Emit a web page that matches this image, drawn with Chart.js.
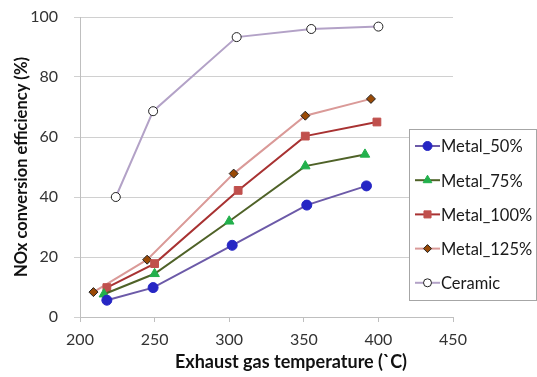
<!DOCTYPE html>
<html><head><meta charset="utf-8">
<script src="https://cdn.jsdelivr.net/npm/chart.js@4/dist/chart.umd.min.js"></script>
<style>html,body{margin:0;padding:0;background:#fff}#w{width:537px;height:377px}</style>
</head><body><div id="w"><canvas id="c" width="537" height="377"></canvas></div>
<script>
const seriesNames = ["Metal_50%", "Metal_75%", "Metal_100%", "Metal_125%", "Ceramic"];
const metal50 = [[218, 5.6], [249, 9.8], [302, 23.9], [352, 37.3], [392, 43.7]];
const metal75 = [[216, 7.6], [250, 14.4], [300, 31.9], [351, 50.3], [391, 54.2]];
const metal100 = [[218, 9.8], [250, 17.8], [306, 42.2], [351, 60.3], [399, 65.0]];
const metal125 = [[209, 8.3], [245, 19.1], [303, 47.8], [351, 67.1], [395, 72.7]];
const ceramic = [[224, 40.0], [249, 68.6], [305, 93.3], [355, 96.0], [400, 96.8]];
const xTicks = [200, 250, 300, 350, 400, 450];
const yTicks = [0, 20, 40, 60, 80, 100];
const xTitle = "Exhaust gas temperature (`C)";
const yTitle = "NOx conversion efficiency (%)";

const styles = [
  {line:"#6c5aa8", fill:"#2626c4", border:"#2626c4", shape:"circle", r:5},
  {line:"#4f6228", fill:"#22b04c", border:"#22b04c", shape:"triangle", r:5.5},
  {line:"#a83232", fill:"#c0504d", border:"#c0504d", shape:"rect", r:5.5},
  {line:"#da9a98", fill:"#9a4a06", border:"#222", shape:"rectRot", r:4.5},
  {line:"#b3a2c7", fill:"#fff", border:"#222", shape:"circle", r:4.5}
];
const allData = [metal50, metal75, metal100, metal125, ceramic];
const FONT = "Lato, 'Liberation Sans', sans-serif";

const datasets = allData.map((d,i)=>({
  label: seriesNames[i],
  data: d.map(p=>({x:p[0], y:p[1]})),
  borderColor: styles[i].line,
  borderWidth: 2,
  backgroundColor: styles[i].fill,
  pointBackgroundColor: styles[i].fill,
  pointBorderColor: styles[i].border,
  pointBorderWidth: 1,
  pointStyle: styles[i].shape,
  pointRadius: styles[i].r,
  tension: 0
}));

const legendPlugin = {
  id: 'boxLegend',
  afterDraw(chart) {
    const ctx = chart.ctx;
    ctx.save();
    ctx.font = "bold 18px " + FONT;
    ctx.fillStyle = "#111";
    ctx.textAlign = "center";
    ctx.textBaseline = "middle";
    ctx.fillText(xTitle, 291, 362);
    ctx.textAlign = "left";
    const x0 = 409, y0 = 129, w = 128, h = 172;
    ctx.fillStyle = "#fff";
    ctx.fillRect(x0, y0, w, h);
    ctx.strokeStyle = "#a6a6a6";
    ctx.lineWidth = 1;
    ctx.strokeRect(x0+0.5, y0+0.5, w-1, h-1);
    ctx.font = "16.5px " + FONT;
    chart.data.datasets.forEach((ds, i) => {
      const cy = y0 + 17 + i * 34.2;
      ctx.strokeStyle = ds.borderColor;
      ctx.lineWidth = 2;
      ctx.beginPath(); ctx.moveTo(x0+6, cy); ctx.lineTo(x0+31, cy); ctx.stroke();
      ctx.fillStyle = ds.pointBackgroundColor;
      ctx.strokeStyle = ds.pointBorderColor;
      ctx.lineWidth = 1;
      Chart.helpers.drawPoint(ctx, {pointStyle: ds.pointStyle, radius: ds.pointRadius - 0.5, borderWidth: 1, rotation: 0}, x0+18.5, cy);
      ctx.fillStyle = "#1a1a1a";
      ctx.fillText(ds.label, x0+32, cy+1);
    });
    ctx.restore();
  }
};

new Chart(document.getElementById('c'), {
  type: 'line',
  data: { datasets },
  plugins: [legendPlugin],
  options: {
    responsive: false,
    animation: false,
    layout: { padding: { top: 17, right: 84, left: 8, bottom: 0 } },
    plugins: { legend: { display: false }, tooltip: { enabled: false } },
    scales: {
      x: {
        type: 'linear', min: 200, max: 450,
        afterBuildTicks(s){ s.ticks = xTicks.map(v=>({value:v})); },
        grid: { display: true, drawOnChartArea: false, drawTicks: true, tickLength: 5, color: "#bfbfbf" },
        border: { color: "#bfbfbf" },
        ticks: { color: "#333", font: { size: 16, family: FONT }, padding: 8 },
        title: { display: false },
        afterFit(s){ s.height = 60; s.paddingLeft = 0; s.paddingRight = 0; }
      },
      y: {
        type: 'linear', min: 0, max: 100,
        afterBuildTicks(s){ s.ticks = yTicks.map(v=>({value:v})); },
        grid: { color: "#d0d0d0", tickLength: 6, drawTicks: true },
        border: { color: "#bfbfbf" },
        ticks: { color: "#333", font: { size: 16, family: FONT }, padding: 16 },
        title: { display: true, text: yTitle, color: "#111", font: { size: 16.5, weight: 'bold', family: FONT }, padding: {top: 4, bottom: 4} },
        afterFit(s){ s.width = 72; s.paddingTop = 0; s.paddingBottom = 0; }
      }
    }
  }
});
</script></body></html>
